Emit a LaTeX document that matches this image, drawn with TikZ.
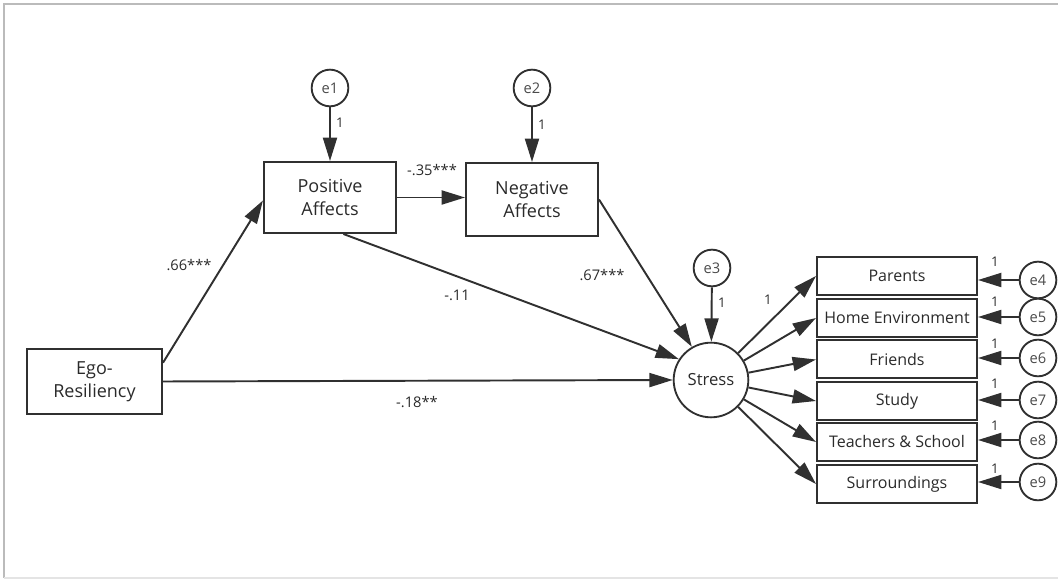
\documentclass[tikz,border=0pt]{standalone}
\usepackage{fontspec}
\setmainfont{Open Sans}
\usetikzlibrary{arrows.meta,calc}
\definecolor{ln}{HTML}{303030}
\definecolor{tx}{HTML}{2A2A2A}
\definecolor{fr}{HTML}{BBBBBB}
\begin{document}
\begin{tikzpicture}[x=0.75pt,y=-0.75pt,
  every node/.style={text=tx},
  box/.style={draw=ln,line width=1.5pt,rectangle,inner sep=0pt,align=center,
    font=\fontsize{13.5}{17}\selectfont},
  ind/.style={draw=ln,line width=1.5pt,rectangle,inner sep=0pt,
    minimum width=120pt,minimum height=28.5pt,font=\fontsize{12}{14}\selectfont},
  err/.style={draw=ln,line width=1.4pt,circle,inner sep=0pt,minimum size=27.5pt,
    font=\fontsize{11}{13}\selectfont,text=tx!85},
  lat/.style={draw=ln,line width=1.4pt,circle,inner sep=0pt,minimum size=56pt,
    font=\fontsize{12.5}{14}\selectfont},
  lbl/.style={font=\fontsize{11}{13}\selectfont,inner sep=0pt},
  one/.style={font=\fontsize{10}{12}\selectfont,inner sep=0pt},
  path/.style={draw=ln,line width=1.45pt,-{Triangle[length=17.5pt,width=10.5pt]}}
]
\useasboundingbox (0,0) rectangle (1058,580);
\draw[fr,line width=1pt] (1058,4) -- (4,4) -- (4,578);
\draw[fr!40,line width=1pt] (4,578) -- (1058,578);

% nodes
\node[box,minimum width=101.25pt,minimum height=48.75pt] (ego) at (94.5,381.5) {Ego-\\Resiliency};
\node[box,minimum width=99pt,minimum height=53.25pt] (pos) at (330,197.5) {Positive\\Affects};
\node[box,minimum width=99pt,minimum height=54.75pt] (neg) at (532,199.5) {Negative\\Affects};
\node[err] (e1) at (330,88) {e1};
\node[err] (e2) at (532,88) {e2};
\node[lat] (stress) at (711,380) {Stress};
\node[err] (e3) at (712,268) {e3};

\node[ind] (b4) at (897,276) {Parents};
\node[ind] (b5) at (897,318) {Home Environment};
\node[ind] (b6) at (897,359.5) {Friends};
\node[ind] (b7) at (897,401) {Study};
\node[ind] (b8) at (897,442) {Teachers \& School};
\node[ind] (b9) at (897,484) {Surroundings};

\node[err] (e4) at (1038,280) {e4};
\node[err] (e5) at (1038,317) {e5};
\node[err] (e6) at (1038,358) {e6};
\node[err] (e7) at (1038,400) {e7};
\node[err] (e8) at (1038,440) {e8};
\node[err] (e9) at (1038,482) {e9};

% paths
\draw[path] (e1) -- (pos);
\draw[path] (e2) -- (neg);
\draw[path] (e3) -- (stress);
\draw[path] (pos) -- (neg.west |- pos.east);
\draw[path] ($(ego.north east)!0.22!(ego.south east)$) -- ($(pos.north west)!0.54!(pos.south west)$);
\draw[path] (ego.east) -- (stress.west);
\draw[path] ($(pos.south west)!0.6!(pos.south east)$) -- (stress.147);
\draw[path] (neg.east) -- (stress.120);
\foreach \b in {b4,b5,b6,b7,b8,b9} {\draw[path] (stress) -- (\b.west);}
\foreach \e/\b in {e4/b4,e5/b5,e6/b6,e7/b7,e8/b8,e9/b9} {\draw[path] (\e) -- (\b.east |- \e);}

% labels
\node[lbl] (l66) at (189,265) {.66***};
\node[lbl] (l11) at (457,295) {-.11};
\node[lbl] (l18) at (417,402) {-.18**};
\node[lbl] (l35) at (432,170) {-.35***};
\node[lbl] (l67) at (602,275) {.67***};
\node[one] (o1) at (340,123) {1};
\node[one] (o2) at (542,125) {1};
\node[one] (o3) at (722,303) {1};
\node[one] (os) at (768,300) {1};
\node[one] (o4) at (995,262) {1};
\node[one] (o5) at (995,302) {1};
\node[one] (o6) at (995,344) {1};
\node[one] (o7) at (995,384) {1};
\node[one] (o8) at (995,426) {1};
\node[one] (o9) at (995,469) {1};
\end{tikzpicture}
\end{document}
